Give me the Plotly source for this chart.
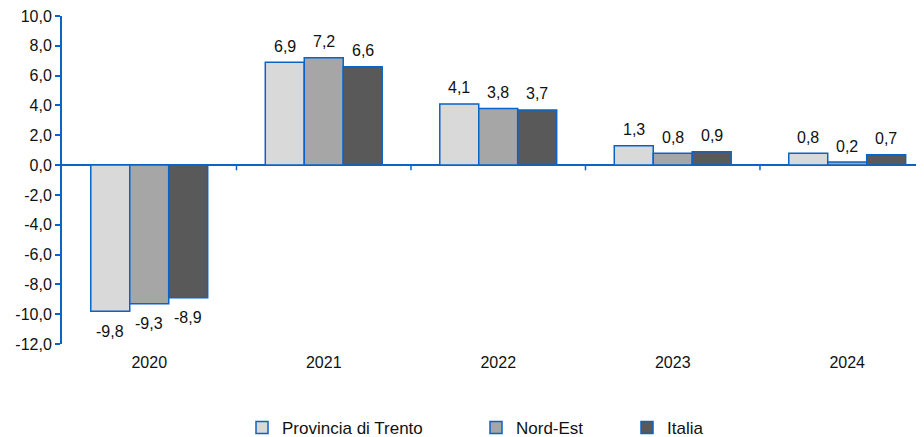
import plotly.graph_objects as go

years = ["2020", "2021", "2022", "2023", "2024"]
trento = [-9.8, 6.9, 4.1, 1.3, 0.8]
nordest = [-9.3, 7.2, 3.8, 0.8, 0.2]
italia = [-8.9, 6.6, 3.7, 0.9, 0.7]
y_ticks = [-12, -10, -8, -6, -4, -2, 0, 2, 4, 6, 8, 10]


def fmt(v):
    return f"{v:.1f}".replace(".", ",")


BLUE = "#0A64C8"
FONT = "Liberation Sans, Arial, sans-serif"
TXT = "#111111"
# page body has an 8px default margin, so the figure is sized to fill the window
W, H = 916, 429
ML, MR, MT, MB = 54, 0, 8, 93
XR = [-0.5, 4.44]
BARGAP = 0.33

series = [
    ("Provincia di Trento", trento, "#D9D9D9", "legend"),
    ("Nord-Est", nordest, "#A6A6A6", "legend2"),
    ("Italia", italia, "#595959", "legend3"),
]

fig = go.Figure()
cat_px = (W - ML - MR) / (XR[1] - XR[0])
bar_px = cat_px * (1 - BARGAP) / len(series)
annotations = []
for k, (name, vals, col, lg) in enumerate(series):
    fig.add_trace(go.Bar(
        x=years, y=vals, name=name,
        marker=dict(color=col, line=dict(color=BLUE, width=1.5)),
        legend=lg,
    ))
    off = (k - (len(series) - 1) / 2) * bar_px
    for i, v in enumerate(vals):
        # category index (year strings look numeric to the annotation parser)
        annotations.append(dict(
            x=i, y=v, xref="x", yref="y", text=fmt(v), showarrow=False,
            xshift=off, yshift=(16 if v >= 0 else -20),
            font=dict(family=FONT, size=16, color=TXT),
        ))

# small tick marks at category boundaries on the zero line
for i in range(len(years) - 1):
    fig.add_shape(type="line", xref="x", yref="y", x0=i + 0.5, x1=i + 0.5,
                  y0=0, y1=-0.35, line=dict(color=BLUE, width=1.5))

leg_common = dict(orientation="h", yanchor="middle", y=(H - 420) / H,
                  xanchor="left", xref="container", yref="container",
                  font=dict(family=FONT, size=17, color=TXT),
                  bgcolor="rgba(0,0,0,0)", itemwidth=30, tracegroupgap=0)

fig.update_layout(
    width=W, height=H,
    margin=dict(l=ML, r=MR, t=MT, b=MB),
    paper_bgcolor="white", plot_bgcolor="white",
    barmode="group", bargap=BARGAP, bargroupgap=0,
    font=dict(family=FONT, size=16, color=TXT),
    showlegend=True,
    legend=dict(x=234 / W, **leg_common),
    legend2=dict(x=468 / W, **leg_common),
    legend3=dict(x=619 / W, **leg_common),
    annotations=annotations,
)
fig.update_xaxes(
    type="category", range=XR, showline=False, showgrid=False, zeroline=False,
    ticks="outside", ticklen=4, tickcolor="rgba(0,0,0,0)",
    tickfont=dict(family=FONT, size=16, color=TXT),
)
fig.update_yaxes(
    range=[-12, 10], tickvals=y_ticks, ticktext=[fmt(v) for v in y_ticks],
    showline=True, linecolor=BLUE, linewidth=2,
    ticks="outside", ticklen=5, tickcolor=BLUE, tickwidth=1.5,
    showgrid=False, zeroline=True, zerolinecolor=BLUE, zerolinewidth=2,
    tickfont=dict(family=FONT, size=16, color=TXT),
    ticklabeloverflow="allow",
)

fig.write_html("out.html")
